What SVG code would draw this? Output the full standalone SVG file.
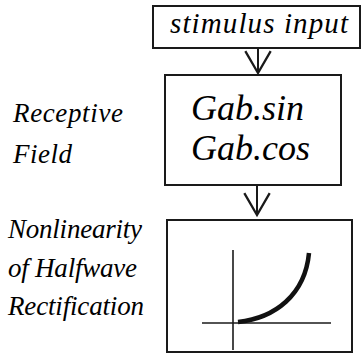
<svg xmlns="http://www.w3.org/2000/svg" width="362" height="354" viewBox="0 0 362 354">
<defs>
<style>
.box{fill:#fff;stroke:#1a1a1a;stroke-width:2}
.axis{stroke:#1a1a1a;stroke-width:1.6;fill:none}
.conn{stroke:#1a1a1a;stroke-width:2;fill:none}
</style>
<marker id="vhead" markerUnits="userSpaceOnUse" markerWidth="30" markerHeight="30" viewBox="-21 -13 23 26" refX="0" refY="0" orient="auto">
<path d="M-19,-11 L0,0 L-19,11" fill="none" stroke="#1a1a1a" stroke-width="2"/>
</marker>
</defs>
<g id="labels">
<text x="13" y="122" font-family="Times New Roman, Liberation Serif, serif" font-style="italic" font-size="27" textLength="110">Receptive</text>
<text x="13" y="163" font-family="Times New Roman, Liberation Serif, serif" font-style="italic" font-size="27" textLength="59">Field</text>
<text x="8" y="238" font-family="Times New Roman, Liberation Serif, serif" font-style="italic" font-size="27" textLength="134">Nonlinearity</text>
<text x="8" y="277" font-family="Times New Roman, Liberation Serif, serif" font-style="italic" font-size="27" textLength="129">of Halfwave</text>
<text x="8" y="315" font-family="Times New Roman, Liberation Serif, serif" font-style="italic" font-size="27" textLength="136">Rectification</text>
</g>
<g id="stimulus">
<rect class="box" x="153" y="6" width="207" height="42"/>
<text x="170" y="33" font-family="Times New Roman, Liberation Serif, serif" font-style="italic" font-size="29" textLength="178">stimulus input</text>
</g>
<g id="receptive">
<rect class="box" x="165" y="75" width="176" height="110"/>
<text x="191" y="120" font-family="Times New Roman, Liberation Serif, serif" font-style="italic" font-size="36">Gab.sin</text>
<text x="191" y="160" font-family="Times New Roman, Liberation Serif, serif" font-style="italic" font-size="36">Gab.cos</text>
</g>
<g id="nonlinearity">
<rect class="box" x="167" y="220" width="185" height="132"/>
<line class="axis" x1="233" y1="250" x2="233" y2="350"/>
<line class="axis" x1="202" y1="323" x2="331" y2="323"/>
<path d="M238,322 C275,318 305,295 309,253" fill="none" stroke="#111" stroke-width="4.5"/>
</g>
<g id="connectors">
<line class="conn" x1="258" y1="48" x2="258" y2="73" marker-end="url(#vhead)"/>
<line class="conn" x1="257" y1="185" x2="257" y2="215" marker-end="url(#vhead)"/>
</g>
</svg>
